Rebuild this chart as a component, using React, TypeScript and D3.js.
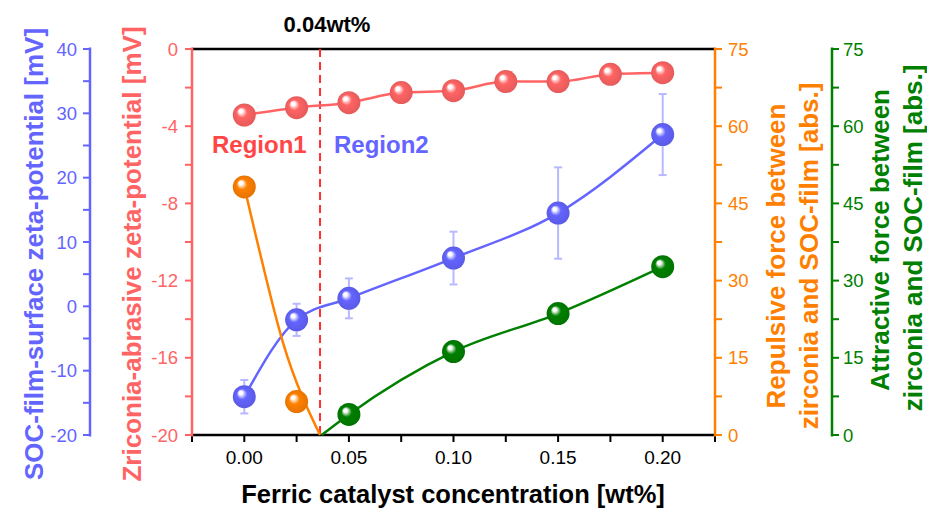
import React from 'react';
import * as d3 from 'd3';

// concentrations [wt%]
const xConc = [0, 0.025, 0.05, 0.075, 0.1, 0.125, 0.15, 0.175, 0.2];
const zirconiaZeta = [-3.42, -3.04, -2.78, -2.26, -2.16, -1.69, -1.69, -1.31, -1.23];

const socX = [0, 0.025, 0.05, 0.1, 0.15, 0.2];
const socZeta = [-14.05, -2.1, 1.24, 7.5, 14.5, 26.7];
const socErr = [2.6, 2.5, 3.1, 4.1, 7.1, 6.3];

const repulsiveX = [0, 0.025];
const repulsive = [48.2, 6.5];
// fitted curve
const repulsiveFitX = [0, 0.006, 0.0186, 0.0362];
const repulsiveFit = [48.2, 37.9, 17.8, 0];

const attractiveX = [0.05, 0.1, 0.15, 0.2];
const attractive = [4.0, 16.2, 23.6, 32.7];
const attractiveLineX = [0.037, 0.05, 0.1, 0.15, 0.2];
const attractiveLine = [0, 4.0, 16.2, 23.6, 32.7];

const xTicks = [0, 0.05, 0.1, 0.15, 0.2];
const xMinor = [-0.025, 0, 0.025, 0.05, 0.075, 0.1, 0.125, 0.15, 0.175, 0.2, 0.225];
const redTicks = [0, -4, -8, -12, -16, -20];
const blueTicks = [40, 30, 20, 10, 0, -10, -20];
const forceTicks = [0, 15, 30, 45, 60, 75];
const boundary = 0.0362;

const W = 927, H = 508;
const left = 192, right = 715, top = 49, bottom = 435;
const blueAxisX = 90, greenAxisX = 832;

const red = '#ff6464', blue = '#6464ff', orange = '#ff8000', green = '#008000';
const font = 'Arial, "Liberation Sans", sans-serif';

const x = d3.scaleLinear().domain([-0.025, 0.225]).range([left, right]);
const yRed = d3.scaleLinear().domain([-20, 0]).range([bottom, top]);
const yBlue = d3.scaleLinear().domain([-20, 40]).range([bottom, top]);
const yForce = d3.scaleLinear().domain([0, 75]).range([bottom, top]);

const curve = (xs: number[], ys: number[], sc: any) =>
  d3.line<number>().x((_, i) => x(xs[i])).y((v) => sc(v)).curve(d3.curveMonotoneX)(ys) as string;

function Spheres({ xs, ys, sc, id }: any) {
  return (
    <g>
      {ys.map((v: number, i: number) => (
        <circle key={i} cx={x(xs[i])} cy={sc(v)} r={11.5} fill={`url(#g-${id})`} />
      ))}
    </g>
  );
}

function VAxis({ ax, sc, ticks, minorStep, color, side, domain, off }: any) {
  const minors = d3.range(domain[0], domain[1] + 1e-9, minorStep);
  const d = side === 'left' ? -7 : 7;
  return (
    <g>
      <line x1={ax} x2={ax} y1={sc(domain[0]) + 1.5} y2={sc(domain[1]) - 1.5} stroke={color} strokeWidth={2.5} />
      {minors.map((t: number, i: number) => (
        <line key={i} x1={ax} x2={ax + d} y1={sc(t)} y2={sc(t)} stroke={color} strokeWidth={2} />
      ))}
      {ticks.map((t: number, i: number) => (
        <text key={'t' + i} x={ax + (side === 'left' ? -off : off)} y={sc(t)} dy="0.36em"
          textAnchor={side === 'left' ? 'end' : 'start'} fill={color} fontSize={18.5} fontFamily={font}>
          {t}
        </text>
      ))}
    </g>
  );
}

function Grad({ id, color }: any) {
  return (
    <radialGradient id={`g-${id}`} cx="50%" cy="50%" r="50%" fx="32%" fy="30%">
      <stop offset="0%" stopColor="#ffffff" />
      <stop offset="15%" stopColor="#ffffff" stopOpacity={0.9} />
      <stop offset="45%" stopColor={color} />
      <stop offset="100%" stopColor={d3.color(color)!.darker(0.3).toString()} />
    </radialGradient>
  );
}

export default function App() {
  return (
    <svg width={W} height={H} style={{ position: 'absolute', left: 0, top: 0, background: '#fff' }}>
      <defs>
        <Grad id="red" color={red} />
        <Grad id="blue" color={blue} />
        <Grad id="orange" color={orange} />
        <Grad id="green" color={green} />
      </defs>

      {/* frame */}
      <line x1={left} x2={right} y1={top} y2={top} stroke="#000" strokeWidth={2.5} />
      <line x1={left} x2={right} y1={bottom} y2={bottom} stroke="#000" strokeWidth={2.5} />
      {xMinor.map((t, i) => (
        <line key={i} x1={x(t)} x2={x(t)} y1={bottom} y2={bottom + 7} stroke="#000" strokeWidth={2} />
      ))}
      {xTicks.map((t, i) => (
        <text key={i} x={x(t)} y={464} textAnchor="middle" fontSize={19} fontFamily={font} fill="#000">
          {d3.format('.2f')(t)}
        </text>
      ))}
      <text x={453} y={503} textAnchor="middle" fontSize={25.5} fontWeight="bold" fontFamily={font}>
        Ferric catalyst concentration [wt%]
      </text>

      <VAxis ax={left} sc={yRed} ticks={redTicks} minorStep={2} color={red} side="left" domain={[-20, 0]} off={14} />
      <VAxis ax={blueAxisX} sc={yBlue} ticks={blueTicks} minorStep={5} color={blue} side="left" domain={[-20, 40]} off={13} />
      <VAxis ax={right} sc={yForce} ticks={forceTicks} minorStep={7.5} color={orange} side="right" domain={[0, 75]} off={13} />
      <VAxis ax={greenAxisX} sc={yForce} ticks={forceTicks} minorStep={7.5} color={green} side="right" domain={[0, 75]} off={11} />

      {/* axis titles */}
      <g fontFamily={font} fontWeight="bold" fontSize={26} textAnchor="middle">
        <text transform="translate(43,254) rotate(-90)" fill={blue}>SOC-film-surface zeta-potential [mV]</text>
        <text transform="translate(141,254) rotate(-90)" fill={red}>Zriconia-abrasive zeta-potential [mV]</text>
        <text transform="translate(785,256) rotate(-90)" fill={orange}>Repulsive force between</text>
        <text transform="translate(818,256) rotate(-90)" fill={orange}>zirconia and SOC-film [abs.]</text>
        <text transform="translate(889,240) rotate(-90)" fill={green}>Attractive force between</text>
        <text transform="translate(922,238) rotate(-90)" fill={green}>zirconia and SOC-film [abs.]</text>
      </g>

      {/* boundary */}
      <line x1={x(boundary)} x2={x(boundary)} y1={top} y2={bottom} stroke="#ff3030" strokeWidth={2} strokeDasharray="8,5" />
      <text x={327} y={32} textAnchor="middle" fontSize={22} fontWeight="bold" fontFamily={font}>0.04wt%</text>
      <text x={212} y={153} fontSize={24} fontWeight="bold" fontFamily={font} fill="#ff4545">Region1</text>
      <text x={334} y={153} fontSize={24} fontWeight="bold" fontFamily={font} fill={blue}>Region2</text>

      {/* error bars */}
      {socZeta.map((v, i) => {
        const cx = x(socX[i]);
        return (
          <g key={i} stroke="#b8b8ff" strokeWidth={2}>
            <line x1={cx} x2={cx} y1={yBlue(v - socErr[i])} y2={yBlue(v + socErr[i])} />
            <line x1={cx - 4} x2={cx + 4} y1={yBlue(v - socErr[i])} y2={yBlue(v - socErr[i])} />
            <line x1={cx - 4} x2={cx + 4} y1={yBlue(v + socErr[i])} y2={yBlue(v + socErr[i])} />
          </g>
        );
      })}

      {/* lines */}
      <path d={curve(xConc, zirconiaZeta, yRed)} fill="none" stroke={red} strokeWidth={2.5} />
      <path d={curve(socX, socZeta, yBlue)} fill="none" stroke={blue} strokeWidth={2.5} />
      <path d={curve(repulsiveFitX, repulsiveFit, yForce)} fill="none" stroke={orange} strokeWidth={2.5} />
      <path d={curve(attractiveLineX, attractiveLine, yForce)} fill="none" stroke={green} strokeWidth={2.5} />

      <Spheres xs={xConc} ys={zirconiaZeta} sc={yRed} id="red" />
      <Spheres xs={socX} ys={socZeta} sc={yBlue} id="blue" />
      <Spheres xs={repulsiveX} ys={repulsive} sc={yForce} id="orange" />
      <Spheres xs={attractiveX} ys={attractive} sc={yForce} id="green" />
    </svg>
  );
}
